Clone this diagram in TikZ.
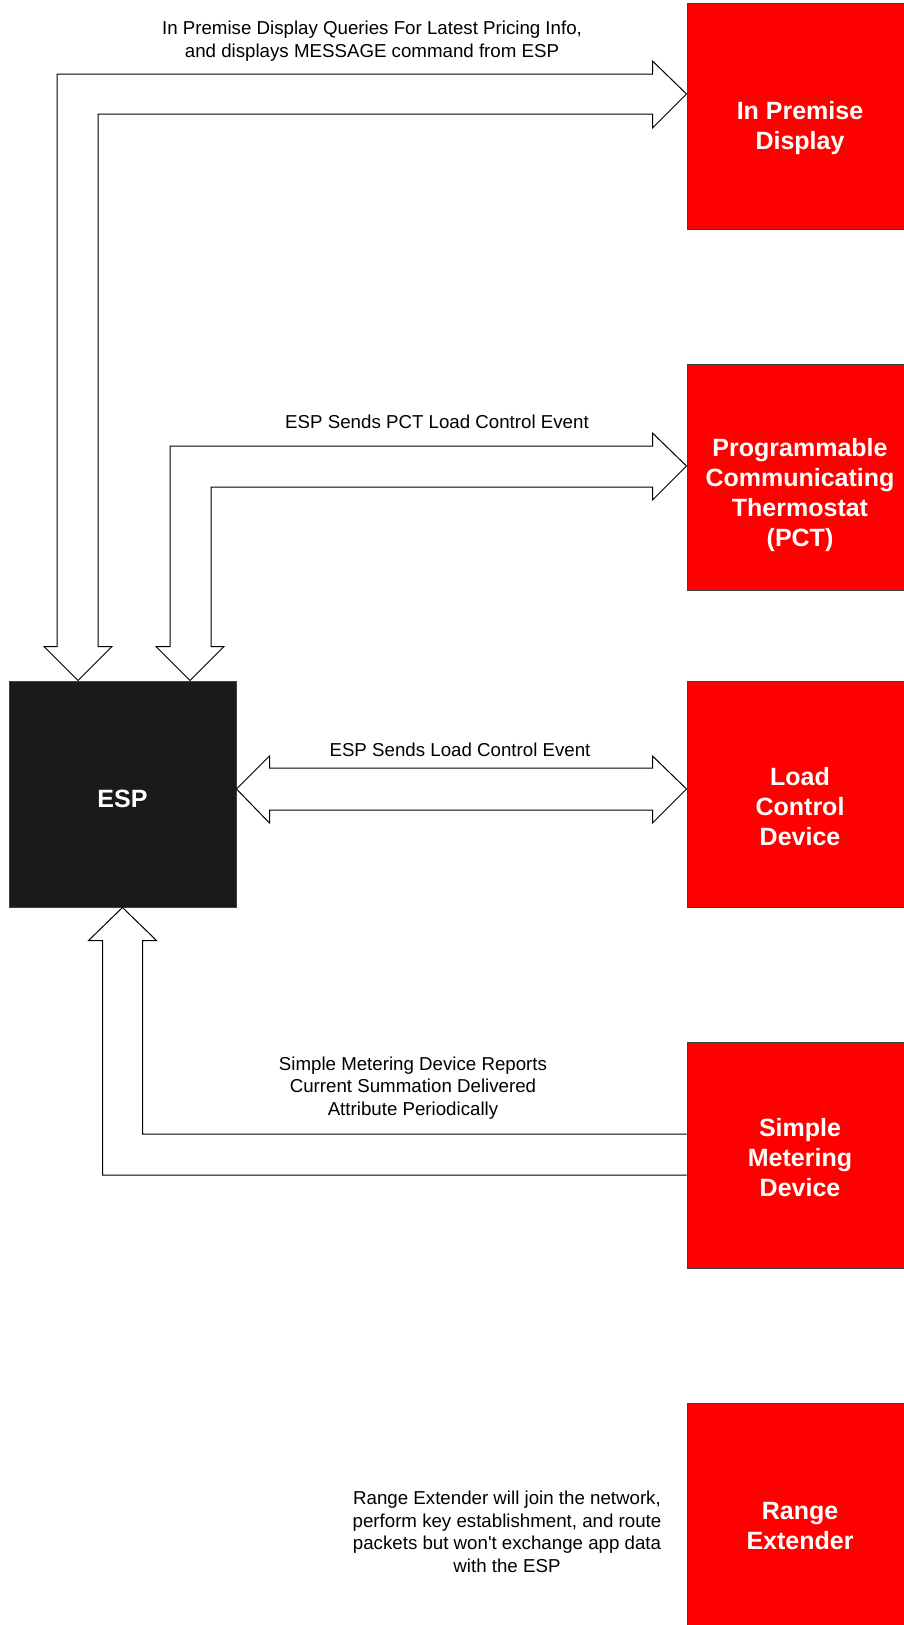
\documentclass[tikz,border=0pt]{standalone}
\usepackage{fontspec}
\setmainfont{Liberation Sans}
\definecolor{espgray}{HTML}{1A1A1A}
\tikzset{
    devbox/.style={draw=black!75, fill=red, line width=1pt, minimum width=226pt, minimum height=226pt, inner sep=0pt},
    espbox/.style={devbox, fill=espgray, minimum width=227pt},
    devtxt/.style={text=white, align=center, font=\fontsize{25}{30}\selectfont\bfseries},
    msg/.style={align=center, font=\fontsize{18.7}{22.5}\selectfont},
    blockarrow/.style={draw=black, fill=white, line width=1pt, line join=miter},
}
\begin{document}
\begin{tikzpicture}[x=1pt,y=-1pt]
    \useasboundingbox (0,0) rectangle (904,1625);

    % boxes
    \node[espbox] (esp) at (122.5,794) {};
    \node[devbox] (ipd) at (800,116) {};
    \node[devbox] (pct) at (800,477.5) {};
    \node[devbox] (lcd) at (800,794) {};
    \node[devbox] (smd) at (800,1155) {};
    \node[devbox] (re)  at (800,1516) {};

    \node[devtxt] (esptxt) at ([yshift=-5pt]esp.center) {ESP};
    \node[devtxt] (ipdtxt) at ([yshift=-12pt]ipd.center) {In Premise\\Display};
    \node[devtxt] (pcttxt) at ([yshift=-18pt]pct.center) {Programmable\\Communicating\\Thermostat\\(PCT)};
    \node[devtxt] (lcdtxt) at ([yshift=-13pt]lcd.center) {Load\\Control\\Device};
    \node[devtxt] (smdtxt) at ([yshift=-3pt]smd.center) {Simple\\Metering\\Device};
    \node[devtxt] (retxt)  at ([yshift=-10pt]re.center) {Range\\Extender};

    % arrow ends
    \coordinate (ipdin) at ([yshift=22pt]ipd.west);
    \coordinate (pctin) at ([yshift=11.5pt]pct.west);
    \coordinate (espa) at ([xshift=-44.5pt]esp.north);
    \coordinate (espb) at ([xshift=67.5pt]esp.north);
    \coordinate (lcdl) at ([yshift=5pt]esp.east);
    \coordinate (lcdr) at ([yshift=5pt]lcd.west);

    % ESP <-> In Premise Display
    \draw[blockarrow] (ipdin) -- ++(-34,-33) -- ++(0,13)
        -| ([shift={(-21,-34)}]espa) -- ++(-13,0) -- (espa) -- ++(34,-34) -- ++(-14,0)
        |- ([shift={(-34,20)}]ipdin) -- ++(0,14) -- cycle;

    % ESP <-> PCT
    \draw[blockarrow] (pctin) -- ++(-34,-33) -- ++(0,13)
        -| ([shift={(-20,-34)}]espb) -- ++(-14,0) -- (espb) -- ++(34,-34) -- ++(-13,0)
        |- ([shift={(-34,21)}]pctin) -- ++(0,13) -- cycle;

    % ESP <-> Load Control Device
    \draw[blockarrow] (lcdl) -- ++(33,-33) -- ++(0,12)
        -- ([shift={(-34,-21)}]lcdr) -- ++(0,-12) -- (lcdr) -- ++(-34,34) -- ++(0,-13)
        -- ([shift={(33,21)}]lcdl) -- ++(0,13) -- cycle;

    % Simple Metering Device -> ESP
    \draw[blockarrow] ([yshift=21pt]smd.west)
        -| ([shift={(20,33)}]esp.south) -- ++(14,0) -- (esp.south) -- ++(-34,33) -- ++(14,0)
        |- ([yshift=-20pt]smd.west);

    % messages
    \node[msg] (ipdmsg) at (372,41) {In Premise Display Queries For Latest Pricing Info,\\and displays MESSAGE command from ESP};
    \node[msg] (pctmsg) at (437,422) {ESP Sends PCT Load Control Event};
    \node[msg] (lcdmsg) at (460,750) {ESP Sends Load Control Event};
    \node[msg] (smdmsg) at (413,1088) {Simple Metering Device Reports\\Current Summation Delivered\\Attribute Periodically};
    \node[msg] (remsg)  at (507,1532) {Range Extender will join the network,\\perform key establishment, and route\\packets but won\textquotesingle t exchange app data\\with the ESP};
\end{tikzpicture}
\end{document}
